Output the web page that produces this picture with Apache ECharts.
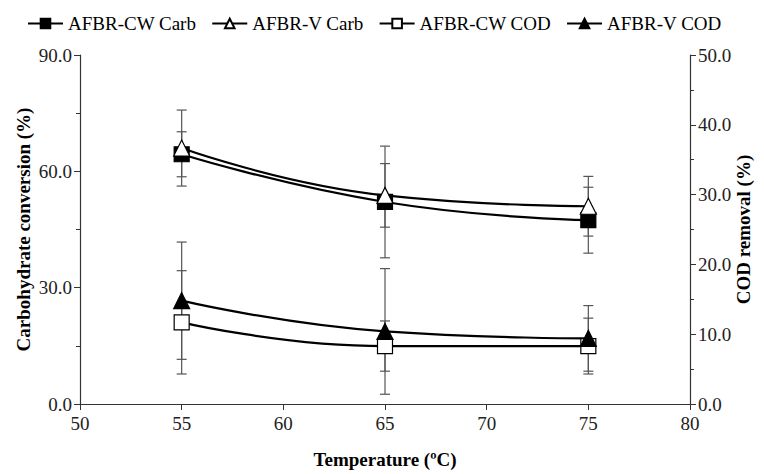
<!DOCTYPE html>
<html>
<head>
<meta charset="utf-8">
<script src="https://cdn.jsdelivr.net/npm/echarts@6/dist/echarts.min.js"></script>
<style>
  html, body { margin: 0; padding: 0; background: #fff; }
  #chart { width: 764px; height: 474px; }
</style>
</head>
<body>
<div id="chart"></div>
<script>
const temps = [55, 65, 75]
const cwCarb = [64.4, 52.1, 47.4]
const cwCarbErr = [5.8, 14.4, 8.5]
const vCarb = [66.0, 53.8, 51.0]
const vCarbErr = [9.8, 8.2, 7.7]
const cwCod = [11.7, 8.3, 8.3]
const cwCodErr = [7.4, 3.6, 4.0]
const vCod = [14.8, 10.4, 9.4]
const vCodErr = [8.4, 9.0, 4.7]

const font = '"Liberation Serif", "Times New Roman", serif'
const instance = echarts.init(document.getElementById('chart'), null, { renderer: 'svg' })

// error bars: [x, low, high]
const errData = (vals, errs) => temps.map((t, i) => [t, vals[i] - errs[i], vals[i] + errs[i]])
const errSeries = (vals, errs, yAxisIndex) => ({
  type: 'custom',
  yAxisIndex,
  z: 1,
  silent: true,
  renderItem: (params, api) => {
    const lo = api.coord([api.value(0), api.value(1)])
    const hi = api.coord([api.value(0), api.value(2)])
    const w = 5
    const style = { stroke: '#555', lineWidth: 1.2 }
    return {
      type: 'group',
      children: [
        { type: 'line', shape: { x1: lo[0], y1: lo[1], x2: hi[0], y2: hi[1] }, style },
        { type: 'line', shape: { x1: lo[0] - w, y1: lo[1], x2: lo[0] + w, y2: lo[1] }, style },
        { type: 'line', shape: { x1: hi[0] - w, y1: hi[1], x2: hi[0] + w, y2: hi[1] }, style }
      ]
    }
  },
  data: errData(vals, errs)
})
const lineSeries = (name, vals, yAxisIndex, symbol, fill, size) => ({
  name,
  type: 'line',
  yAxisIndex,
  smooth: true,
  z: 3,
  symbol,
  symbolSize: size,
  lineStyle: { color: '#000', width: 2.2 },
  itemStyle: { color: fill, borderColor: '#000', borderWidth: 1.2 },
  data: temps.map((t, i) => [t, vals[i]])
})

const axisBase = {
  axisLine: { show: true, lineStyle: { color: '#333', width: 1.2 } },
  axisTick: { show: true, length: 6, lineStyle: { color: '#333' } },
  splitLine: { show: false },
  nameMoveOverlap: false,
  axisLabel: { fontFamily: font, fontSize: 19, color: '#222' },
  nameTextStyle: { fontFamily: font, fontSize: 19, fontWeight: 'bold', color: '#000' }
}

instance.setOption({
  animation: false,
  backgroundColor: '#fff',
  textStyle: { fontFamily: font },
  legend: {
    left: 22,
    top: 9,
    itemWidth: 35,
    itemHeight: 12,
    itemGap: 15,
    textStyle: { fontFamily: font, fontSize: 19, color: '#000' },
    data: ['AFBR-CW Carb', 'AFBR-V Carb', 'AFBR-CW COD', 'AFBR-V COD']
  },
  grid: { left: 80, right: 74, top: 55, bottom: 69 },
  xAxis: {
    ...axisBase,
    type: 'value',
    min: 50,
    max: 80,
    interval: 5,
    name: 'Temperature (ºC)',
    nameLocation: 'middle',
    nameGap: 46,
    axisLabel: { ...axisBase.axisLabel, margin: 10 }
  },
  yAxis: [
    {
      ...axisBase,
      type: 'value',
      min: 0,
      max: 90,
      interval: 30,
      name: 'Carbohydrate conversion (%)',
      nameLocation: 'middle',
      nameGap: 47,
      minorTick: { show: true, splitNumber: 2, length: 4, lineStyle: { color: '#333' } },
      axisLabel: { ...axisBase.axisLabel, formatter: v => v.toFixed(1) }
    },
    {
      ...axisBase,
      type: 'value',
      position: 'right',
      min: 0,
      max: 50,
      interval: 10,
      name: 'COD removal (%)',
      nameLocation: 'middle',
      nameGap: 44,
      minorTick: { show: true, splitNumber: 2, length: 4, lineStyle: { color: '#333' } },
      axisLabel: { ...axisBase.axisLabel, formatter: v => v.toFixed(1) }
    }
  ],
  series: [
    errSeries(cwCarb, cwCarbErr, 0),
    errSeries(vCarb, vCarbErr, 0),
    errSeries(cwCod, cwCodErr, 1),
    errSeries(vCod, vCodErr, 1),
    lineSeries('AFBR-CW Carb', cwCarb, 0, 'rect', '#000', 15),
    lineSeries('AFBR-V Carb', vCarb, 0, 'triangle', '#fff', 16),
    lineSeries('AFBR-CW COD', cwCod, 1, 'rect', '#fff', 15),
    lineSeries('AFBR-V COD', vCod, 1, 'triangle', '#000', 16)
  ]
})
</script>
</body>
</html>
